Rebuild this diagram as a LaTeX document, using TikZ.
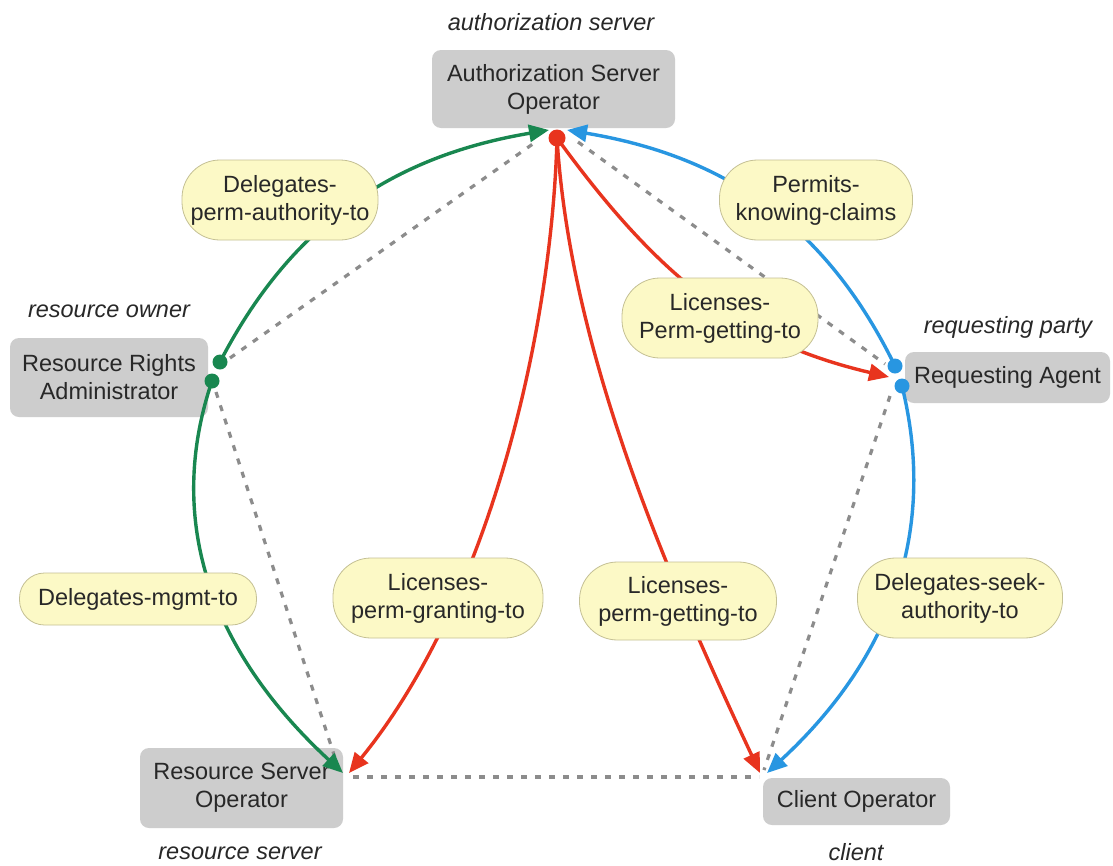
\documentclass[tikz,border=0pt]{standalone}
\usepackage{fontspec}
\setmainfont{Liberation Sans}
\usetikzlibrary{arrows.meta}
\definecolor{gbox}{RGB}{205,205,205}
\definecolor{txt}{RGB}{40,40,40}
\definecolor{ylw}{RGB}{252,249,198}
\definecolor{ylwb}{RGB}{196,192,148}
\definecolor{grn}{RGB}{25,135,80}
\definecolor{blu}{RGB}{40,150,225}
\definecolor{rd}{RGB}{232,52,30}
\definecolor{dotg}{RGB}{140,140,140}
\begin{document}
\begin{tikzpicture}[x=1pt,y=-1pt,
  actor/.style={fill=gbox, rounded corners=9pt, text=txt, align=center, inner sep=0pt,
    font=\fontsize{23.5}{28}\selectfont},
  rel/.style={fill=ylw, draw=ylwb, line width=0.8pt, rounded corners=38pt, text=txt,
    align=center, inner sep=0pt, font=\fontsize{23.5}{28}\selectfont},
  role/.style={text=txt, font=\fontsize{23.5}{28}\selectfont\itshape},
  link/.style={dash pattern=on 6pt off 8pt, line width=3.2pt, draw=dotg},
  flow/.style={line width=3.4pt, -{Triangle[length=20pt,width=17pt]}},
  joint/.style={circle, inner sep=0pt, minimum size=15pt}
]
\path[use as bounding box, fill=white] (0,0) rectangle (1113,865);

% actor boxes
\node[actor, minimum width=243pt, minimum height=78pt] (as) at (553.5,89) {Authorization Server\\Operator};
\node[actor, minimum width=198pt, minimum height=79pt] (rra) at (109,377.5) {Resource Rights\\Administrator};
\node[actor, minimum width=205pt, minimum height=51pt] (ra) at (1007.5,377.5) {Requesting Agent};
\node[actor, minimum width=203pt, minimum height=80pt] (rso) at (241.5,788) {Resource Server\\Operator};
\node[actor, minimum width=187pt, minimum height=47pt] (co) at (856.5,801.5) {Client Operator};

% role labels
\node[role] (lAS) at (551,22) {authorization server};
\node[role] (lRRA) at (109,311) {resource owner};
\node[role] (lRA) at (1008,327) {requesting party};
\node[role] (lRSO) at (240,853) {resource server};
\node[role] (lCO) at (856,852) {client};

% junction points
\coordinate (jT) at (557,138);
\coordinate (jTg) at (549,130);
\coordinate (jTb) at (567,130);
\coordinate (jL1) at (220,362);
\coordinate (jL2) at (212,381);
\coordinate (jR1) at (895,366);
\coordinate (jR2) at (902,386);
\coordinate (jRr) at (889,377);
\coordinate (jBLg) at (343,773);
\coordinate (jBLr) at (349,773);
\coordinate (jBRr) at (760,773);
\coordinate (jBRb) at (767,773);
% dotted link ends
\coordinate (dT1) at (537,141);
\coordinate (dT2) at (578,142);
\coordinate (dL1) at (230,358);
\coordinate (dL2) at (216,392);
\coordinate (dBL1) at (338,767);
\coordinate (dBL2) at (353,777);
\coordinate (dBR1) at (764,770);
\coordinate (dBR2) at (759,777);
\coordinate (dR1) at (885,364);
\coordinate (dR2) at (890,396);

% dotted links
\draw[link] (dL1) -- (dT1);
\draw[link] (dT2) -- (dR1);
\draw[link] (dL2) -- (dBL1);
\draw[link] (dR2) -- (dBR1);
\draw[link] (dBL2) -- (dBR2);

% coloured relations
\draw[flow, grn] (jL1) .. controls (292,223) and (394,156) .. (jTg);
\draw[flow, grn] (jL2) .. controls (165,520) and (210,650) .. (jBLg);
\draw[flow, blu] (jR1) .. controls (825,223) and (723,156) .. (jTb);
\draw[flow, blu] (jR2) .. controls (935,520) and (900,650) .. (jBRb);
\draw[flow, rd] (jT) .. controls (552,330) and (490,600) .. (jBLr);
\draw[flow, rd] (jT) .. controls (570,350) and (665,570) .. (jBRr);
\draw[flow, rd] (jT) .. controls (663,284) and (745,343) .. (jRr);

% relation labels
\node[rel, minimum width=196pt, minimum height=80pt] (e1) at (280,200) {Delegates-\\perm-authority-to};
\node[rel, minimum width=193pt, minimum height=80pt] (e2) at (816,200) {Permits-\\knowing-claims};
\node[rel, minimum width=196pt, minimum height=80pt] (e3) at (720,318) {Licenses-\\Perm-getting-to};
\node[rel, minimum width=237pt, minimum height=52pt, rounded corners=25pt] (e4) at (138,599) {Delegates-mgmt-to};
\node[rel, minimum width=210pt, minimum height=80pt] (e5) at (438,598) {Licenses-\\perm-granting-to};
\node[rel, minimum width=197pt, minimum height=78pt] (e6) at (678,601) {Licenses-\\perm-getting-to};
\node[rel, minimum width=205pt, minimum height=80pt] (e7) at (960,598) {Delegates-seek-\\authority-to};

% joint dots
\node[joint, fill=grn] (pL1) at (jL1) {};
\node[joint, fill=grn] (pL2) at (jL2) {};
\node[joint, fill=blu] (pR1) at (jR1) {};
\node[joint, fill=blu] (pR2) at (jR2) {};
\node[joint, fill=rd, minimum size=17pt] (pT) at (jT) {};
\end{tikzpicture}
\end{document}
